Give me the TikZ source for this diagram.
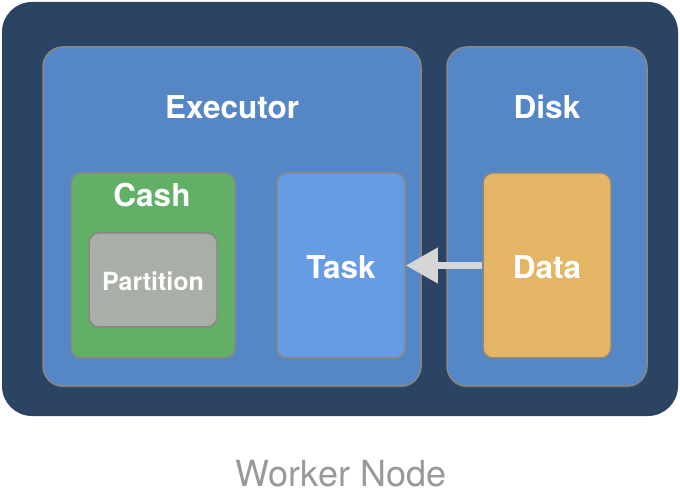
\documentclass[tikz,border=0pt]{standalone}
\usepackage{fontspec}
\setmainfont{TeX Gyre Heros}
\usepackage{tikz}
\usetikzlibrary{arrows.meta, shadows}
\definecolor{nodebg}{HTML}{2B4464}
\definecolor{boxblue}{HTML}{5586C6}
\definecolor{cashgreen}{HTML}{62B066}
\definecolor{partgray}{HTML}{A9AFA6}
\definecolor{taskblue}{HTML}{659CE4}
\definecolor{dataorange}{HTML}{E4B564}
\definecolor{rimgray}{HTML}{888888}
\tikzstyle{container} = [rectangle, rounded corners=20pt, draw=rimgray, line width=1.5pt, fill=boxblue, drop shadow={opacity=0.25, shadow xshift=0pt, shadow yshift=-2pt}]
\tikzstyle{block} = [rectangle, rounded corners=10pt, draw=rimgray, line width=1.5pt, minimum width=128pt, minimum height=185pt, drop shadow={opacity=0.25, shadow xshift=0pt, shadow yshift=-2pt}]
\tikzstyle{title} = [text=white, font=\fontsize{31.5}{34}\selectfont\bfseries]
\tikzstyle{arrow} = [line width=7pt, draw=black!16, -{Triangle[length=32pt, width=34pt]}]

\begin{document}
\begin{tikzpicture}[x=1pt, y=-1pt]
    \useasboundingbox (0,0) rectangle (680,502);
    \node (worker) [rectangle, rounded corners=30pt, fill=nodebg, minimum width=676pt, minimum height=414pt] at (340,209) {};
    \node (executor) [container, minimum width=378pt, minimum height=339pt] at (232,216.5) {};
    \node (disk) [container, minimum width=200pt, minimum height=339pt] at (547,216.5) {};
    \node (cash) [block, fill=cashgreen, minimum width=164pt] at (153,265.5) {};
    \node (partition) [block, fill=partgray, minimum height=94pt] at (153,280) {};
    \node (task) [block, fill=taskblue] at (341,265.5) {};
    \node (data) [block, fill=dataorange] at (547,265.5) {};

    \node (executortitle) [title] at (232,107) {Executor};
    \node (disktitle) [title] at (547,107) {Disk};
    \node (cashtitle) [title] at (152,195) {Cash};
    \node (partitiontitle) [title, font=\fontsize{25}{28}\selectfont\bfseries] at (153,281) {Partition};
    \node (tasktitle) [title] at (341,267) {Task};
    \node (datatitle) [title] at (547,267) {Data};
    \node (workertitle) [text=black!40, font=\fontsize{36}{40}\selectfont] at (341,474) {Worker Node};

    \draw [arrow] (data.west) -- (task.east);
\end{tikzpicture}
\end{document}
